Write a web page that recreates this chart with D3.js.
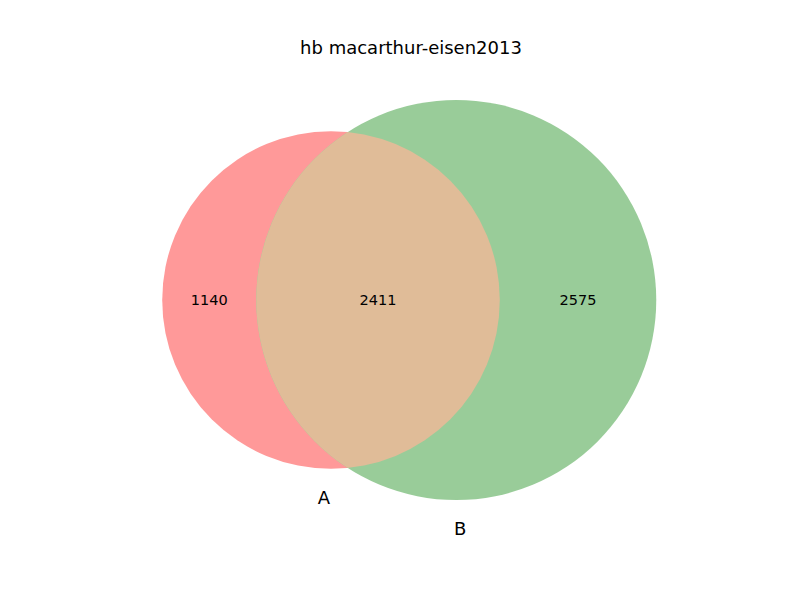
<!DOCTYPE html>
<html><head><meta charset="utf-8">
<script src="https://cdn.jsdelivr.net/npm/d3@7"></script>
<style>body{margin:0;background:#fff}text{font-family:"DejaVu Sans",sans-serif}</style>
</head><body><svg id="c" width="800" height="600"></svg>
<script>
const title = "hb macarthur-eisen2013";
const setNames = ["A", "B"];
const regionValues = [1140, 2575, 2411]; // A only, B only, A∩B
const setColors = ["#ff9999", "#99cc99"];
const interColor = "#e0bc98";

const sizeA = regionValues[0] + regionValues[2];
const sizeB = regionValues[1] + regionValues[2];
const rAu = Math.sqrt(sizeA / Math.PI), rBu = Math.sqrt(sizeB / Math.PI);
function lens(d, r1, r2) {
  if (d >= r1 + r2) return 0;
  if (d <= Math.abs(r1 - r2)) return Math.PI * Math.min(r1, r2) ** 2;
  const a = r1*r1*Math.acos((d*d + r1*r1 - r2*r2)/(2*d*r1));
  const b = r2*r2*Math.acos((d*d + r2*r2 - r1*r1)/(2*d*r2));
  const c = 0.5*Math.sqrt((-d+r1+r2)*(d+r1-r2)*(d-r1+r2)*(d+r1+r2));
  return a + b - c;
}
let lo = Math.abs(rAu - rBu), hi = rAu + rBu;
for (let i = 0; i < 100; i++) { const m = (lo+hi)/2; if (lens(m, rAu, rBu) > regionValues[2]) lo = m; else hi = m; }
const du = (lo + hi) / 2;

const r = d3.scaleSqrt().domain([0, sizeB]).range([0, 200]);
const px = r(sizeB) / rBu;
const rA = r(sizeA), rB = r(sizeB);
const x = d3.scaleLinear().domain([0, du]).range([331, 331 + du * px]);
const cy = 300;
const cA = x(0), cB = x(du);

const svg = d3.select("#c");
svg.append("defs").append("clipPath").attr("id", "clipA")
  .append("circle").attr("cx", cA).attr("cy", cy).attr("r", rA);
svg.append("circle").attr("cx", cA).attr("cy", cy).attr("r", rA).attr("fill", setColors[0]);
svg.append("circle").attr("cx", cB).attr("cy", cy).attr("r", rB).attr("fill", setColors[1]);
svg.append("circle").attr("cx", cB).attr("cy", cy).attr("r", rB).attr("fill", interColor).attr("clip-path", "url(#clipA)");

const pos = [((cA - rA) + (cB - rB)) / 2, ((cA + rA) + (cB + rB)) / 2, ((cB - rB) + (cA + rA)) / 2];
regionValues.forEach((v, i) => {
  svg.append("text").attr("x", pos[i]).attr("y", cy).attr("text-anchor", "middle")
    .attr("dominant-baseline", "central").attr("font-size", 14.5).text(v);
});
[[cA - 7, cy + rA + 29], [cB + 4, cy + rB + 28]].forEach((p, i) => {
  svg.append("text").attr("x", p[0]).attr("y", p[1]).attr("text-anchor", "middle")
    .attr("dominant-baseline", "central").attr("font-size", 18).text(setNames[i]);
});
svg.append("text").attr("x", 411).attr("y", 47).attr("text-anchor", "middle")
  .attr("dominant-baseline", "central").attr("font-size", 18).text(title);
</script></body></html>
